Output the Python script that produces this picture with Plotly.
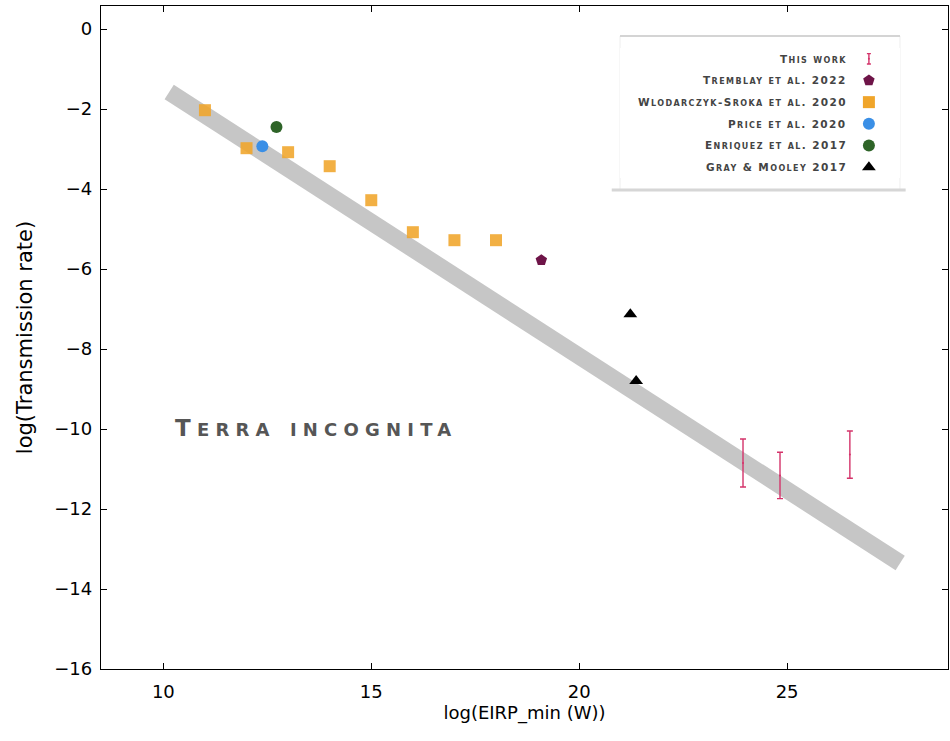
import plotly.graph_objects as go

# ---- data ----
wl_x = [11, 12, 13, 14, 15, 16, 17, 18]
wl_y = [-2.03, -2.98, -3.08, -3.43, -4.28, -5.08, -5.28, -5.28]
price_x = [12.38]
price_y = [-2.93]
enr_x = [12.72]
enr_y = [-2.45]
trem_x = [19.09]
trem_y = [-5.78]
gray_x = [21.23, 21.37]
gray_y = [-7.13, -8.80]
tw_x = [23.94, 24.83, 26.51]
tw_y = [-10.85, -11.16, -10.64]
tw_err = [0.60, 0.58, 0.59]
band_x = [10.14, 27.72]
band_y = [-1.575, -13.35]

x_ticks = [10, 15, 20, 25]
y_ticks = [0, -2, -4, -6, -8, -10, -12, -14, -16]

legend_names = ["This work", "Tremblay et al. 2022", "Wlodarczyk-Sroka et al. 2020",
                "Price et al. 2020", "Enriquez et al. 2017", "Gray & Mooley 2017"]
region_label = "Terra incognita"

C_TW = "#d4336a"
C_TREM = "#6e1448"
C_WL = "#f0a52a"
C_PRICE = "#3a8fe6"
C_ENR = "#2e6428"
C_GRAY = "#000000"
BAND = "#c6c6c6"


def small_caps(s, big, small, spacing):
    """Render text as small caps: lowercase letters become smaller capitals."""
    out = []
    for ch in s:
        if ch.islower():
            out.append('<span style="font-size:%.1fpx">%s</span>' % (small, ch.upper()))
        else:
            c = "&amp;" if ch == "&" else ch
            out.append('<span style="font-size:%.1fpx">%s</span>' % (big, c))
    return '<span style="letter-spacing:%.1fpx">' % spacing + "".join(out) + "</span>"


fig = go.Figure()

fig.add_trace(go.Scatter(x=band_x, y=band_y, mode="lines",
                         line=dict(color=BAND, width=17), hoverinfo="skip", showlegend=False))

fig.add_trace(go.Scatter(x=wl_x, y=wl_y, mode="markers", name=legend_names[2],
                         marker=dict(symbol="square", size=12, color=C_WL, opacity=0.88),
                         showlegend=False))
fig.add_trace(go.Scatter(x=price_x, y=price_y, mode="markers", name=legend_names[3],
                         marker=dict(symbol="circle", size=12, color=C_PRICE), showlegend=False))
fig.add_trace(go.Scatter(x=enr_x, y=enr_y, mode="markers", name=legend_names[4],
                         marker=dict(symbol="circle", size=12, color=C_ENR), showlegend=False))
fig.add_trace(go.Scatter(x=trem_x, y=trem_y, mode="markers", name=legend_names[1],
                         marker=dict(symbol="pentagon", size=12, color=C_TREM), showlegend=False))
fig.add_trace(go.Scatter(x=gray_x, y=gray_y, mode="markers", name=legend_names[5],
                         marker=dict(symbol="triangle-up", size=12, color=C_GRAY), showlegend=False))
fig.add_trace(go.Scatter(x=tw_x, y=tw_y, mode="markers", name=legend_names[0],
                         marker=dict(symbol="circle", size=2, color=C_TW),
                         error_y=dict(type="data", array=tw_err, color=C_TW, thickness=1.4, width=3),
                         showlegend=False))

# ---- custom legend (marker to the right of the label) on a hidden helper axis ----
leg_styles = [
    dict(symbol="circle", size=2, color=C_TW),
    dict(symbol="pentagon", size=12, color=C_TREM),
    dict(symbol="square", size=12, color=C_WL),
    dict(symbol="circle", size=12, color=C_PRICE),
    dict(symbol="circle", size=12, color=C_ENR),
    dict(symbol="triangle-up", size=12, color=C_GRAY),
]
for i, (nm, st) in enumerate(zip(legend_names, leg_styles)):
    kw = {}
    if i == 0:
        kw["error_y"] = dict(type="data", array=[0.24], color=C_TW, thickness=1.4, width=2)
    fig.add_trace(go.Scatter(x=[0.889], y=[i], mode="markers", marker=st, xaxis="x2", yaxis="y2",
                             showlegend=False, hoverinfo="skip", **kw))
    fig.add_annotation(x=0.818, y=i, xref="x2", yref="y2", xanchor="right", yanchor="middle",
                       text=small_caps(nm, 10.5, 8, 1.4),
                       showarrow=False,
                       font=dict(family="DejaVu Sans", size=10, color="#444444", weight="bold"))

# legend frame
fig.add_shape(type="rect", xref="paper", yref="paper", x0=0.6128, x1=0.9433, y0=0.7225, y1=0.9548,
              line=dict(color="#eeeeee", width=1), fillcolor="rgba(0,0,0,0)", layer="below")
fig.add_shape(type="line", xref="paper", yref="paper", x0=0.6128, x1=0.9433, y0=0.9548, y1=0.9548,
              line=dict(color="#c8c8c8", width=1.5))
fig.add_shape(type="line", xref="paper", yref="paper", x0=0.6030, x1=0.9500, y0=0.7225, y1=0.7225,
              line=dict(color="#d6d6d6", width=3))

fig.add_annotation(x=10.22, y=-9.98, xref="x", yref="y", xanchor="left", yanchor="middle",
                   text=small_caps(region_label, 23, 18, 6.2), showarrow=False,
                   font=dict(family="DejaVu Sans", size=18, color="#565656", weight="bold"))

axis_common = dict(showline=True, linecolor="black", linewidth=1.3, mirror="ticks",
                   ticks="inside", ticklen=6, tickwidth=1, tickcolor="black",
                   showgrid=False, zeroline=False, automargin=False,
                   tickfont=dict(family="DejaVu Sans", size=18, color="black"))

fig.update_layout(
    width=950, height=741,
    margin=dict(l=101, r=2, t=6, b=72),
    paper_bgcolor="white", plot_bgcolor="white",
    showlegend=False,
    xaxis=dict(range=[8.5, 28.87], tickvals=x_ticks, ticktext=[str(v) for v in x_ticks],
               ticklabelstandoff=6,
               title=dict(text="log(EIRP_min (W))", font=dict(family="DejaVu Sans", size=18, color="black"),
                          standoff=5),
               **axis_common),
    yaxis=dict(range=[-16, 0.575], tickvals=y_ticks, ticklabelstandoff=4,
               title=dict(text="log(Transmission rate)", font=dict(family="DejaVu Sans", size=21, color="black"),
                          standoff=15),
               **axis_common),
    xaxis2=dict(domain=[0.6128, 0.9433], range=[0, 1], visible=False, anchor="y2", fixedrange=True),
    yaxis2=dict(domain=[0.7406, 0.9367], range=[5.5, -0.5], visible=False, anchor="x2", fixedrange=True),
    font=dict(family="DejaVu Sans"),
)

fig.write_html("out.html", config={"displayModeBar": False},
               post_script="document.body.style.margin='0';")
